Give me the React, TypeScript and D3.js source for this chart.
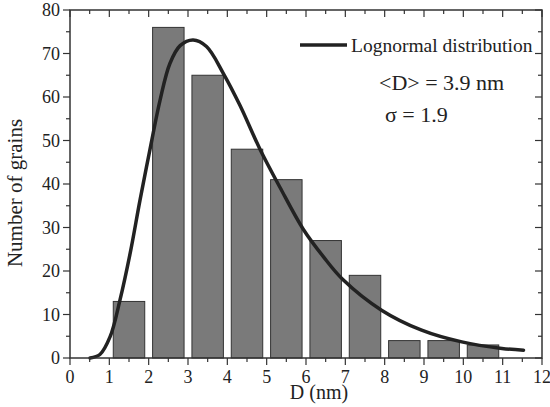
import React from "react";
import * as d3 from "d3";

const binCenters = [1.5, 2.5, 3.5, 4.5, 5.5, 6.5, 7.5, 8.5, 9.5, 10.5];
const counts = [13, 76, 65, 48, 41, 27, 19, 4, 4, 3];
const curveX = [0.51, 0.76, 1.02, 1.27, 1.53, 1.78, 2.03, 2.29, 2.54, 2.8, 3.13, 3.47, 3.9, 4.32, 4.83, 5.34, 5.93, 6.44, 6.93, 7.92, 8.94, 9.96, 10.98, 11.53];
const curveY = [0, 0.8, 4.9, 13.3, 24.1, 36.3, 47.8, 59.3, 67.7, 71.8, 73.1, 71.6, 65.4, 58.1, 48.0, 39.2, 29.6, 23.3, 18.1, 11.0, 6.4, 3.7, 2.2, 1.8];
const xTicks = [0, 1, 2, 3, 4, 5, 6, 7, 8, 9, 10, 11, 12];
const yTicks = [0, 10, 20, 30, 40, 50, 60, 70, 80];

const W = 550, H = 407;
const L = 70, R = 542, T = 10, B = 358;
const FONT = "'Liberation Serif', 'Times New Roman', serif";
const AX = "#333";

export default function App() {
  const x = d3.scaleLinear().domain([0, 12]).range([L, R]);
  const y = d3.scaleLinear().domain([0, 80]).range([B, T]);
  const binW = 0.8;
  const pts = curveX.map((v, i) => [v, curveY[i]] as [number, number]);
  const line = d3.line<[number, number]>().x(d => x(d[0])).y(d => y(d[1])).curve(d3.curveCatmullRom.alpha(0.5));
  const halfX = d3.range(0, 12.01, 0.5);
  const fiveY = d3.range(0, 80.01, 5);

  return (
    <svg width={W} height={H} style={{ position: "absolute", left: 0, top: 0 }}>
      <rect x={0} y={0} width={W} height={H} fill="#fff" />
      {counts.map((c, i) => (
        <rect key={i} x={x(binCenters[i] - binW / 2)} y={y(c)} width={x(binW) - x(0)} height={y(0) - y(c)}
          fill="#7a7a7a" stroke="#333" strokeWidth={1} />
      ))}
      <path d={line(pts) || ""} fill="none" stroke="#222" strokeWidth={3.5} strokeLinecap="round" />
      <rect x={L} y={T} width={R - L} height={B - T} fill="none" stroke={AX} strokeWidth={1.5} />
      {halfX.map((v, i) => {
        const major = Math.abs(v - Math.round(v)) < 1e-6;
        return <line key={"b" + i} x1={x(v)} x2={x(v)} y1={B} y2={B + (major ? 7 : 4)} stroke={AX} strokeWidth={1.2} />;
      })}
      {halfX.map((v, i) => {
        const major = Math.abs(v - Math.round(v)) < 1e-6;
        return <line key={"t" + i} x1={x(v)} x2={x(v)} y1={T} y2={T + (major ? 7 : 4)} stroke={AX} strokeWidth={1.2} />;
      })}
      {fiveY.map((v, i) => {
        const major = v % 10 === 0;
        return <line key={"l" + i} x1={L} x2={L - (major ? 7 : 4)} y1={y(v)} y2={y(v)} stroke={AX} strokeWidth={1.2} />;
      })}
      {fiveY.map((v, i) => {
        const major = v % 10 === 0;
        return <line key={"r" + i} x1={R} x2={R - (major ? 7 : 4)} y1={y(v)} y2={y(v)} stroke={AX} strokeWidth={1.2} />;
      })}
      {xTicks.map(v => (
        <text key={"xl" + v} x={x(v)} y={383} textAnchor="middle" fontFamily={FONT} fontSize={18} fill="#222">{v}</text>
      ))}
      {yTicks.map(v => (
        <text key={"yl" + v} x={60} y={y(v) + 6} textAnchor="end" fontFamily={FONT} fontSize={18} fill="#222">{v}</text>
      ))}
      <text x={319} y={399} textAnchor="middle" fontFamily={FONT} fontSize={20} fill="#222">D (nm)</text>
      <text transform={`translate(22,193) rotate(-90)`} textAnchor="middle" fontFamily={FONT} fontSize={21} fill="#222">Number of grains</text>
      <line x1={300} x2={347} y1={45} y2={45} stroke="#222" strokeWidth={3.5} />
      <text x={351} y={52} fontFamily={FONT} fontSize={19.5} fill="#222">Lognormal distribution</text>
      <text x={379} y={90} fontFamily={FONT} fontSize={22} fill="#222">{"<D> = 3.9 nm"}</text>
      <text x={385} y={122} fontFamily={FONT} fontSize={22} fill="#222">{"σ = 1.9"}</text>
    </svg>
  );
}
